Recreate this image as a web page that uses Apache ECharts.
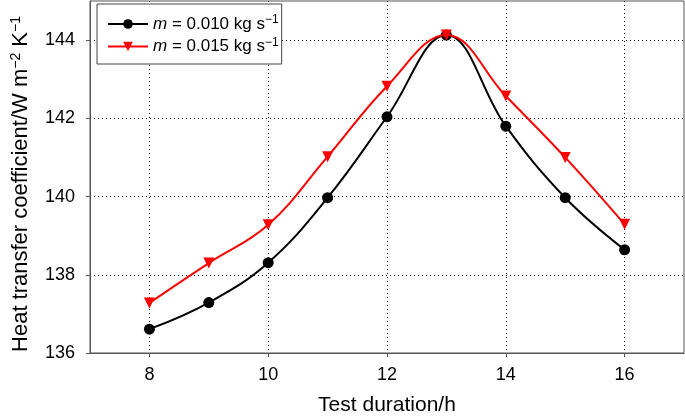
<!DOCTYPE html>
<html>
<head>
<meta charset="utf-8">
<script src="https://cdn.jsdelivr.net/npm/echarts@6/dist/echarts.min.js"></script>
<style>html,body{margin:0;padding:0;background:#fff}#c{width:685px;height:420px}</style>
</head>
<body>
<div id="c"></div>
<script>
var hours = [8, 9, 10, 11, 12, 13, 14, 15, 16];
var flow010 = [136.61, 137.29, 138.31, 139.97, 142.04, 144.13, 141.80, 139.97, 138.64];
var flow015 = [137.28, 138.30, 139.28, 141.02, 142.82, 144.13, 142.57, 141.00, 139.29];
var xTicks = [8, 10, 12, 14, 16];
var yTicks = [136, 138, 140, 142, 144];

var FONT = 'Liberation Sans, Arial, Helvetica, sans-serif';
function pairs(xs, ys) { return xs.map(function (x, i) { return [x, ys[i]]; }); }

var chart = echarts.init(document.getElementById('c'), null, {renderer: 'canvas'});
chart.setOption({
  animation: false,
  backgroundColor: '#fff',
  grid: {left: 90, right: 1, top: 1, bottom: 67, show: true, borderColor: '#555', borderWidth: 1,
         backgroundColor: 'transparent', outerBoundsMode: 'none', containLabel: false},
  legend: {
    left: 97, top: 4, orient: 'vertical',
    backgroundColor: '#fff', borderColor: '#444', borderWidth: 1,
    padding: [10, 3, 9, 10], itemGap: 4, itemWidth: 40, itemHeight: 12,
    textStyle: {
      fontFamily: FONT, fontSize: 17, color: '#000',
      rich: {
        i: {fontFamily: FONT, fontSize: 17, fontStyle: 'italic', color: '#000'},
        t: {fontFamily: FONT, fontSize: 17, color: '#000'},
        s: {fontFamily: FONT, fontSize: 12, color: '#000', verticalAlign: 'top', padding: [0, 0, 8, 0]}
      }
    },
    formatter: function (name) {
      return '{i|m}{t| = ' + name + ' kg s}{s|\u22121}';
    },
    data: ['0.010', '0.015']
  },
  xAxis: {
    type: 'value', min: 7, max: 17,
    name: 'Test duration/h', nameLocation: 'middle', nameGap: 42,
    nameTextStyle: {fontFamily: FONT, fontSize: 21, color: '#000'},
    axisLine: {show: true, lineStyle: {color: '#555', width: 1}},
    axisTick: {show: true, inside: false, length: 4, customValues: xTicks, lineStyle: {color: '#555'}},
    axisLabel: {customValues: xTicks, fontFamily: FONT, fontSize: 18, color: '#000', margin: 13},
    splitLine: {show: true, lineStyle: {color: '#000', type: [1, 3], width: 1}}
  },
  yAxis: {
    type: 'value', min: 136, max: 145,
    name: '{a|Heat transfer coefficient/W m}{s|\u22122}{a| K}{s|\u22121}',
    nameLocation: 'middle', nameGap: 58, nameRotate: 90,
    nameTextStyle: {
      fontFamily: FONT, fontSize: 22, color: '#000', padding: [0, 14, 0, 0],
      rich: {
        a: {fontFamily: FONT, fontSize: 22, color: '#000'},
        s: {fontFamily: FONT, fontSize: 14, color: '#000', verticalAlign: 'top', padding: [0, 0, 9, 0]}
      }
    },
    axisLine: {show: true, lineStyle: {color: '#555', width: 1}},
    axisTick: {show: true, inside: false, length: 4, customValues: yTicks, lineStyle: {color: '#555'}},
    axisLabel: {customValues: yTicks, fontFamily: FONT, fontSize: 18, color: '#000', margin: 15},
    splitLine: {show: true, lineStyle: {color: '#000', type: [1, 3], width: 1}}
  },
  series: [
    {
      name: '0.010', type: 'line', data: pairs(hours, flow010), smooth: 0.4,
      symbol: 'circle', symbolSize: 11,
      lineStyle: {color: '#000', width: 2}, itemStyle: {color: '#000'}, z: 3
    },
    {
      name: '0.015', type: 'line', data: pairs(hours, flow015), smooth: 0.4,
      symbol: 'triangle', symbolRotate: 180, symbolSize: 11,
      lineStyle: {color: '#ff0000', width: 2}, itemStyle: {color: '#ff0000'}, z: 4
    }
  ]
});
</script>
</body>
</html>
